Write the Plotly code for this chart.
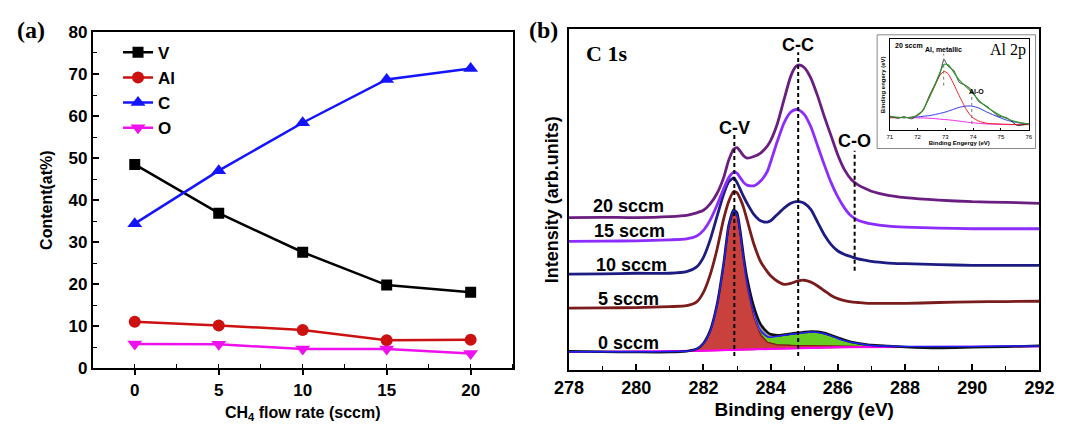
import plotly.graph_objects as go

# ---------------- Panel (a) data ----------------
flow = [0, 5, 10, 15, 20]
V_content = [48.5, 36.9, 27.6, 19.8, 18.1]
Al_content = [11.1, 10.2, 9.1, 6.7, 6.8]
C_content = [34.4, 47.0, 58.4, 68.7, 71.3]
O_content = [5.8, 5.7, 4.6, 4.6, 3.5]

# ---------------- Panel (b) data : C 1s spectra (arb. units) ----------------
E = [278, 279, 280, 281, 281.5, 281.8, 282.0, 282.2, 282.4, 282.6, 282.75, 282.9,
     283.0, 283.1, 283.2, 283.3, 283.5, 283.7, 283.9, 284.0, 284.2, 284.4, 284.6,
     284.75, 284.85, 285.0, 285.2, 285.4, 285.6, 285.8, 286.0, 286.2, 286.4, 286.6,
     286.8, 287.0, 287.5, 288, 289, 290, 291, 292]
s20 = [480, 481, 480, 483, 487, 495, 503, 523, 555, 605, 660, 695,
       700, 688, 674, 667, 672, 683, 705, 722, 775, 852, 925,
       955, 960, 952, 918, 862, 797, 737, 677, 630, 600, 583,
       572, 563, 550, 543, 535, 530, 528, 525]
s15 = [405, 406, 407, 410, 413, 422, 440, 472, 518, 570, 605, 623,
       620, 605, 590, 582, 580, 595, 625, 655, 720, 778, 812,
       820, 818, 805, 765, 705, 645, 590, 545, 510, 485, 472,
       465, 460, 453, 450, 447, 445, 445, 445]
s10 = [302, 303, 305, 305, 310, 325, 355, 410, 482, 553, 592, 605,
       590, 568, 545, 525, 490, 470, 466, 470, 490, 510, 525,
       530, 530, 525, 505, 465, 425, 395, 375, 364, 357, 350,
       346, 342, 337, 335, 332, 330, 330, 330]
s5 = [195, 196, 197, 200, 203, 215, 245, 300, 378, 475, 530, 562,
      558, 538, 510, 472, 397, 342, 310, 297, 280, 270, 273,
      279, 282, 283, 277, 265, 250, 235, 225, 219, 215, 213,
      211, 210, 210, 210, 213, 215, 216, 217]
s0 = [60, 58, 57, 57, 60, 67, 85, 125, 205, 335, 455, 505,
      495, 435, 355, 290, 200, 145, 120, 113, 110, 112, 115,
      117, 118, 120, 122, 121, 117, 110, 102, 95, 89, 85,
      82, 79, 76, 73, 70, 72, 74, 77]
s0_envelope = [58, 58, 58, 59, 60, 67, 84, 122, 202, 332, 452, 502,
               490, 428, 345, 275, 182, 125, 106, 104, 107, 110, 113,
               115, 116, 118, 120, 119, 115, 108, 100, 93, 88, 84,
               81, 78, 76, 75, 75, 75, 76, 76]
# fitted components of the 0 sccm spectrum
E_fit = [281.5, 281.8, 282.0, 282.2, 282.4, 282.6, 282.75, 282.9, 283.0, 283.1, 283.2,
         283.3, 283.5, 283.7, 283.9, 284.2, 284.6, 285.0, 285.4, 285.8, 286.2, 286.6,
         287.0, 287.5]
bg_fit = [59, 60, 61, 61, 62, 62, 63, 63, 64, 64, 64, 65, 65, 66, 67, 68, 69, 70,
          71, 72, 72, 73, 73, 74]
cv_fit = [60, 66, 82, 120, 200, 328, 448, 498, 486, 422, 335, 262, 165, 110, 88, 80,
          78, 77, 76, 75, 74, 74, 74, 74]
E_cc = [283.6, 283.9, 284.2, 284.6, 285.0, 285.4, 285.8, 286.2, 286.6, 287.0, 287.5]
cc_top = [128, 104, 107, 113, 118, 119, 108, 93, 84, 78, 75]
cc_bottom = [128, 88, 80, 78, 77, 76, 75, 74, 74, 74, 74]
bg_E = [278, 282, 284, 286, 288, 292]
bg_line = [57, 61, 67, 72, 73, 75]

spectra = [("20 sccm", s20, "#6a1f80"), ("15 sccm", s15, "#8c2cff"),
           ("10 sccm", s10, "#1c1c82"), ("5 sccm", s5, "#7a1c1c")]
label_E = [279.77, 279.8, 279.87, 279.77, 279.77]
label_y = [515, 438, 330, 223, 87]
label_txt = ["20 sccm", "15 sccm", "10 sccm", "5 sccm", "0 sccm"]
peak_names = ["C-V", "C-C", "C-O"]
peak_E = [282.92, 284.82, 286.5]
peak_line_lo = [45, 45, 313]
peak_line_hi = [740, 1000, 690]
peak_label_y = [763, 1023, 720]

# ---------------- Inset: Al 2p ----------------
in_E = [71.0, 71.3, 71.5, 71.8, 72.0, 72.2, 72.4, 72.6, 72.8, 72.95, 73.1, 73.3,
        73.5, 73.75, 73.95, 74.2, 74.5, 74.9, 75.2, 75.6, 76.0]
in_data = [45, 38, 43, 36, 50, 62, 104, 140, 176, 222, 200, 188, 150, 140, 126, 90,
           75, 45, 40, 15, 22]
in_sum = [43, 41, 40, 41, 47, 65, 100, 137, 180, 207, 205, 182, 157, 136, 120, 94,
          72, 50, 37, 26, 20]
in_metal = [40, 40, 40, 41, 46, 64, 98, 135, 172, 185, 177, 145, 108, 66, 42, 29,
            22, 20, 19, 18, 18]
in_oxide = [40, 40, 40, 41, 42, 44, 46, 49, 53, 56, 60, 66, 72, 76, 76, 70, 57, 42,
            32, 24, 20]
in_bg = [40, 40, 40, 40, 39, 39, 38, 37, 35, 34, 33, 31, 29, 26, 24, 22, 20, 19,
         18, 18, 18]

W, H = 1070, 428
SANS = "Liberation Sans, Arial, sans-serif"
SERIF = "Liberation Serif, Times New Roman, serif"


def px(x):
    return x / W


def py(y):
    return 1 - y / H


fig = go.Figure()

# ---- panel (a) traces
for name, vals, col, sym, size in [
        ("V", V_content, "#000000", "square", 11),
        ("Al", Al_content, "#cc1111", "circle", 12),
        ("C", C_content, "#1414ff", "triangle-up", 13),
        ("O", O_content, "#ee11ee", "triangle-down", 13)]:
    fig.add_trace(go.Scatter(x=flow, y=vals, name=name, mode="lines+markers",
                             line=dict(color=col, width=2.5),
                             marker=dict(symbol=sym, size=size, color=col),
                             xaxis="x", yaxis="y"))

# ---- panel (b): 0 sccm fitted components
fig.add_trace(go.Scatter(x=E_cc + E_cc[::-1], y=cc_top + cc_bottom[::-1],
                         fill="toself", fillcolor="#66cc22", mode="lines",
                         line=dict(color="#5a2a10", width=1), showlegend=False,
                         xaxis="x2", yaxis="y2"))
fig.add_trace(go.Scatter(x=E_fit + E_fit[::-1], y=cv_fit + bg_fit[::-1],
                         fill="toself", fillcolor="#c9413d", mode="lines",
                         line=dict(color="#8b1a1a", width=1.2), showlegend=False,
                         xaxis="x2", yaxis="y2"))
fig.add_trace(go.Scatter(x=E[14:21] + E[14:21][::-1],
                         y=s0[14:21] + s0_envelope[14:21][::-1],
                         fill="toself", fillcolor="#9a9a9a", mode="lines",
                         line=dict(width=0), showlegend=False,
                         xaxis="x2", yaxis="y2"))
fig.add_trace(go.Scatter(x=bg_E, y=bg_line, mode="lines",
                         line=dict(color="#ff00ff", width=2), showlegend=False,
                         xaxis="x2", yaxis="y2"))
fig.add_trace(go.Scatter(x=E, y=s0, mode="lines",
                         line=dict(color="#111111", width=2.5, shape="spline", smoothing=0.6),
                         showlegend=False, xaxis="x2", yaxis="y2"))
fig.add_trace(go.Scatter(x=E, y=s0_envelope, mode="lines",
                         line=dict(color="#2020ff", width=1.5, shape="spline", smoothing=0.6),
                         showlegend=False, xaxis="x2", yaxis="y2"))

for name, vals, col in spectra[::-1]:
    fig.add_trace(go.Scatter(x=E, y=vals, mode="lines", name=name,
                             line=dict(color=col, width=2.8, shape="spline", smoothing=0.6),
                             showlegend=False, xaxis="x2", yaxis="y2"))

# ---- inset traces
for vals, col, w in [(in_bg, "#ee22ee", 1), (in_oxide, "#3333ee", 1),
                     (in_metal, "#ee2222", 1), (in_data, "#111111", 0.8),
                     (in_sum, "#2e9a2e", 1.2)]:
    fig.add_trace(go.Scatter(x=in_E, y=vals, mode="lines",
                             line=dict(color=col, width=w, shape="spline", smoothing=0.5),
                             showlegend=False, xaxis="x3", yaxis="y3"))

shapes = []
for e, lo, hi in zip(peak_E, peak_line_lo, peak_line_hi):
    shapes.append(dict(type="line", xref="x2", yref="y2", x0=e, x1=e, y0=lo, y1=hi,
                       line=dict(color="black", width=2, dash="4px,3px")))
# inset dotted markers
shapes.append(dict(type="line", xref="x3", yref="y3", x0=72.94, x1=72.94, y0=140, y1=240,
                   line=dict(color="#777", width=1, dash="dot")))
shapes.append(dict(type="line", xref="x3", yref="y3", x0=73.95, x1=73.95, y0=20, y1=120,
                   line=dict(color="#777", width=1, dash="dot")))
# inset outer box
shapes.append(dict(type="rect", xref="paper", yref="paper", x0=px(887), x1=px(1050),
                   y0=py(146), y1=py(27), line=dict(color="#888", width=1)))

ann = []
ann.append(dict(text="(a)", x=px(0), y=py(22), xref="paper", yref="paper",
                xanchor="left", yanchor="middle", showarrow=False,
                font=dict(family=SERIF, size=24, color="black", weight="bold")))
ann.append(dict(text="(b)", x=px(527), y=py(22), xref="paper", yref="paper",
                xanchor="left", yanchor="middle", showarrow=False,
                font=dict(family=SERIF, size=24, color="black", weight="bold")))
ann.append(dict(text="C 1s", x=278.45, y=995, xref="x2", yref="y2", xanchor="left",
                showarrow=False, font=dict(family=SERIF, size=22, color="black", weight="bold")))
for t, e, yv in zip(peak_names, peak_E, peak_label_y):
    ann.append(dict(text=t, x=e, y=yv, xref="x2", yref="y2", showarrow=False,
                    font=dict(family=SANS, size=18, color="black", weight="bold")))
for t, e, yv in zip(label_txt, label_E, label_y):
    ann.append(dict(text=t, x=e, y=yv, xref="x2", yref="y2", showarrow=False,
                    font=dict(family=SANS, size=18, color="black", weight="bold")))
# inset text
ann.append(dict(text="20 sccm", x=71.1, y=266, xref="x3", yref="y3", xanchor="left",
                showarrow=False, font=dict(family=SANS, size=7, color="black", weight="bold")))
ann.append(dict(text="Al, metallic", x=72.94, y=252, xref="x3", yref="y3",
                showarrow=False, font=dict(family=SANS, size=7, color="black", weight="bold")))
ann.append(dict(text="Al-O", x=74.12, y=123, xref="x3", yref="y3",
                showarrow=False, font=dict(family=SANS, size=7, color="black", weight="bold")))
ann.append(dict(text="Al 2p", x=75.25, y=252, xref="x3", yref="y3",
                showarrow=False, font=dict(family=SERIF, size=16, color="black")))

fig.update_layout(
    width=W, height=H, margin=dict(l=0, r=0, t=0, b=0),
    paper_bgcolor="white", plot_bgcolor="white",
    shapes=shapes, annotations=ann,
    legend=dict(x=px(106), y=py(27), xanchor="left", yanchor="top",
                bgcolor="rgba(0,0,0,0)", font=dict(family=SANS, size=17, color="black", weight="bold"),
                itemwidth=30, tracegroupgap=0),
    xaxis=dict(domain=[px(80), px(512)], range=[-2.5, 22.5], anchor="y",
               showline=True, mirror=True, linecolor="black", linewidth=2,
               showgrid=False, zeroline=False, tickvals=[0, 5, 10, 15, 20],
               ticks="outside", ticklen=5, tickwidth=1.5, tickcolor="black",
               minor=dict(dtick=2.5, tick0=0, ticks="inside", ticklen=4, tickcolor="black", tickwidth=1.2),
               tickfont=dict(family=SANS, size=17, color="black", weight="bold"),
               title=dict(text="CH<sub>4</sub> flow rate (sccm)", standoff=8,
                          font=dict(family=SANS, size=16, color="black", weight="bold"))),
    yaxis=dict(domain=[py(376), py(24)], range=[0, 80], anchor="x",
               showline=True, mirror=True, linecolor="black", linewidth=2,
               showgrid=False, zeroline=False, dtick=10,
               ticks="inside", ticklen=6, tickwidth=1.5, tickcolor="black",
               minor=dict(dtick=5, ticks="inside", ticklen=4, tickcolor="black", tickwidth=1.2),
               tickfont=dict(family=SANS, size=17, color="black", weight="bold"),
               title=dict(text="Content(at%)", standoff=12,
                          font=dict(family=SANS, size=16, color="black", weight="bold"))),
    xaxis2=dict(domain=[px(570), px(1054)], range=[278, 292], anchor="y2",
                showline=True, mirror=True, linecolor="black", linewidth=2,
                showgrid=False, zeroline=False, dtick=2,
                ticks="inside", ticklen=6, tickwidth=1.5, tickcolor="black",
                minor=dict(dtick=1, ticks="inside", ticklen=4, tickcolor="black", tickwidth=1.2),
                tickfont=dict(family=SANS, size=18, color="black", weight="bold"),
                title=dict(text="Binding energy (eV)", standoff=6,
                           font=dict(family=SANS, size=19, color="black", weight="bold"))),
    yaxis2=dict(domain=[py(378), py(21)], range=[0, 1073], anchor="x2",
                showline=True, mirror=True, linecolor="black", linewidth=2,
                showgrid=False, zeroline=False, showticklabels=False, ticks="",
                title=dict(text="Intensity (arb.units)", standoff=4,
                           font=dict(family=SANS, size=18, color="black", weight="bold"))),
    xaxis3=dict(domain=[px(900), px(1043)], range=[71, 76], anchor="y3",
                showline=True, mirror=True, linecolor="black", linewidth=1,
                showgrid=False, zeroline=False, dtick=1,
                ticks="inside", ticklen=2, tickcolor="black",
                tickfont=dict(family=SANS, size=6, color="black"),
                title=dict(text="Binding Engergy (eV)", standoff=1,
                           font=dict(family=SANS, size=6, color="black", weight="bold"))),
    yaxis3=dict(domain=[py(127), py(31.7)], range=[0, 285], anchor="x3",
                showline=True, mirror=True, linecolor="black", linewidth=1,
                showgrid=False, zeroline=False, showticklabels=False, ticks="",
                title=dict(text="Binding engery (eV)", standoff=2,
                           font=dict(family=SANS, size=6, color="black", weight="bold"))),
)

fig.write_html("out.html")
